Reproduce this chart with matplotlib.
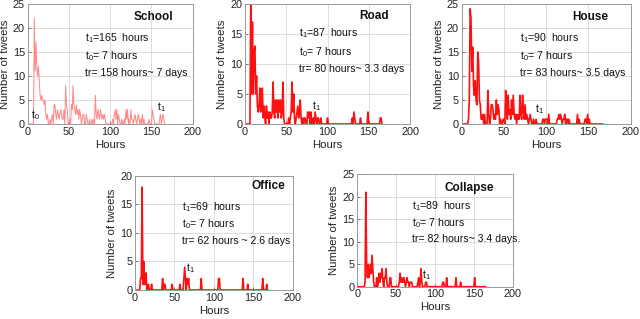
import matplotlib
matplotlib.use("Agg")
import matplotlib.pyplot as plt
import numpy as np

plt.rcParams['font.family'] = ['Liberation Sans', 'DejaVu Sans']
plt.rcParams['mathtext.fontset'] = 'custom'
plt.rcParams['mathtext.rm'] = 'Liberation Sans'
plt.rcParams['mathtext.it'] = 'Liberation Sans'

# hourly tweet counts (hour 0, 1, 2, ...)
school = [0, 0, 0, 0, 0, 0, 0, 0, 22, 11, 17, 12, 10, 12, 9, 6, 5, 6, 5, 5,
          4, 5, 2, 1, 2, 0, 0, 1, 0, 1, 2, 0, 4, 4, 2, 1, 3, 2, 1, 2,
          3, 2, 1, 1, 3, 0, 8, 4, 3, 0, 0, 1, 0, 4, 3, 8, 4, 3, 2, 4,
          2, 3, 1, 3, 2, 0, 1, 2, 2, 0, 0, 2, 1, 0, 0, 1, 0, 0, 1, 0,
          1, 0, 6, 2, 1, 3, 2, 1, 3, 2, 1, 2, 1, 2, 1, 0, 0, 0, 0, 0,
          0, 0, 0, 1, 0, 2, 3, 1, 3, 0, 2, 1, 0, 0, 1, 0, 0, 1, 0, 3,
          1, 3, 0, 1, 0, 3, 1, 1, 0, 1, 2, 1, 0, 1, 2, 1, 0, 1, 0, 2,
          0, 1, 0, 0, 0, 0, 0, 1, 0, 0, 0, 3, 2, 1, 0, 0, 0, 0, 0, 0,
          1, 2, 0, 1, 2, 1, 0]
road = [0, 0, 0, 0, 0, 0, 0, 22, 5, 17, 5, 12, 13, 5, 8, 3, 2, 3, 6, 2,
        5, 6, 1, 3, 1, 0, 3, 1, 2, 0, 2, 1, 1, 2, 7, 2, 1, 4, 2, 4,
        1, 4, 2, 4, 1, 2, 7, 1, 0, 0, 0, 0, 0, 1, 0, 1, 2, 7, 2, 5,
        1, 0, 1, 2, 3, 1, 2, 4, 1, 0, 1, 0, 1, 1, 0, 0, 2, 1, 2, 0,
        2, 0, 0, 1, 0, 2, 1, 0, 1, 1, 0, 0, 1, 0, 0, 0, 0, 0, 0, 0,
        1, 0, 0, 0, 0, 0, 0, 0, 0, 0, 0, 0, 0, 0, 0, 0, 0, 0, 0, 0,
        0, 0, 0, 0, 0, 0, 0, 0, 0, 0, 1, 0, 2, 1, 0, 0, 0, 0, 0, 0,
        1, 0, 0, 0, 0, 0, 0, 0, 0, 2, 0, 0, 0, 0, 0, 0, 0, 0, 0, 0,
        0, 0, 0, 0, 1, 1, 0]
house = [0, 0, 0, 0, 0, 0, 0, 0, 1, 5, 24, 22, 11, 16, 8, 6, 9, 5, 4, 15,
         13, 5, 4, 1, 1, 2, 0, 2, 0, 0, 0, 7, 2, 0, 1, 4, 4, 3, 1, 2,
         1, 5, 2, 4, 3, 0, 1, 0, 0, 1, 1, 0, 7, 3, 1, 6, 2, 3, 1, 5,
         2, 6, 2, 1, 2, 0, 2, 1, 1, 6, 2, 1, 6, 3, 1, 4, 1, 2, 1, 0,
         1, 2, 1, 0, 0, 1, 0, 0, 1, 0, 0, 0, 0, 0, 0, 0, 1, 1, 0, 1,
         1, 1, 0, 2, 0, 0, 0, 0, 0, 0, 0, 0, 0, 1, 1, 2, 1, 2, 1, 0,
         1, 1, 2, 0, 1, 1, 0, 1, 0, 0, 0, 0, 0, 0, 0, 0, 0, 2, 0, 1,
         0, 0, 0, 0, 0, 0, 1, 1, 0, 2, 0, 1, 0, 0, 0, 0, 0, 0, 0, 0,
         0, 0, 0, 0, 0, 0, 0, 0]
office = [0, 0, 0, 0, 0, 0, 0, 2, 2, 18, 1, 5, 1, 1, 3, 0, 0, 1, 0, 0,
          0, 1, 0, 0, 0, 0, 0, 0, 0, 0, 0, 0, 0, 0, 0, 2, 0, 1, 1, 0,
          0, 0, 0, 0, 0, 0, 0, 1, 0, 0, 0, 0, 0, 0, 0, 0, 0, 1, 0, 0,
          0, 0, 2, 4, 2, 0, 2, 1, 2, 0, 0, 0, 0, 0, 0, 0, 0, 0, 0, 0,
          0, 0, 0, 0, 2, 0, 0, 0, 0, 0, 0, 0, 0, 0, 0, 0, 0, 0, 0, 0,
          0, 0, 0, 0, 0, 0, 2, 2, 0, 0, 0, 0, 0, 0, 0, 0, 0, 0, 0, 0,
          0, 0, 0, 0, 0, 0, 0, 0, 0, 0, 0, 0, 0, 0, 0, 0, 0, 2, 0, 0,
          0, 0, 0, 1, 0, 0, 0, 0, 0, 0, 0, 0, 0, 0, 0, 0, 0, 0, 0, 0,
          0, 0, 2, 0, 0, 0, 0, 1, 0]
collapse = [0, 0, 0, 0, 0, 0, 0, 0, 0, 0, 1, 21, 5, 2, 5, 2, 3, 5, 3, 7,
            4, 1, 0, 0, 0, 2, 0, 1, 3, 1, 3, 2, 4, 1, 0, 2, 2, 4, 1, 0,
            0, 0, 2, 2, 0, 0, 0, 0, 0, 0, 0, 0, 0, 0, 1, 3, 1, 2, 1, 1,
            2, 1, 0, 1, 2, 1, 1, 0, 1, 1, 1, 0, 0, 0, 0, 0, 0, 0, 1, 2,
            0, 1, 4, 1, 0, 0, 0, 0, 1, 1, 0, 0, 0, 0, 0, 0, 0, 0, 0, 0,
            0, 0, 0, 0, 0, 0, 0, 0, 0, 0, 1, 1, 0, 0, 0, 2, 0, 0, 0, 0,
            0, 0, 0, 0, 0, 0, 0, 2, 0, 0, 0, 0, 0, 1, 0, 0, 0, 0, 0, 0,
            0, 0, 0, 0, 0, 0, 0, 0, 0, 0, 0, 2, 0, 0, 0, 0, 0, 0, 0, 0,
            0, 0, 0, 0, 0, 0]

titles = ["School", "Road", "House", "Office", "Collapse"]
t1_hours = [165, 87, 90, 69, 89]
tr_texts = ["tr= 158 hours~ 7 days", "tr= 80 hours~ 3.3 days",
            "tr= 83 hours~ 3.5 days", "tr= 62 hours ~ 2.6 days",
            "tr= 82 hours~ 3.4 days."]
ymaxes = [25, 20, 25, 20, 25]
series = [school, road, house, office, collapse]

W, H = 640, 319
fig = plt.figure(figsize=(W / 100, H / 100), dpi=100)

# axes rectangles in pixels: left, top, right, bottom
rects = [(27.7, 4, 192.7, 124), (245, 4, 410, 124), (461.7, 4, 630.7, 124),
         (135, 175.7, 292.7, 290), (357.3, 174.3, 512.7, 286.7)]
colors = ["#ff8a8a", "#ff1010", "#ff1010", "#ff1010", "#ff1010"]
lws = [0.75, 1.2, 1.2, 1.2, 1.2]
title_pos = [(177, 22.2), (174, 18), (174, 22.2), (191, 18.2), (176, 21.9)]
text_x = [70, 66, 69, 59, 71]
text_ys = [(17.9, 14.2, 10.6), (15.1, 12.05, 9.1), (17.85, 14.2, 10.6),
           (14.5, 11.5, 8.6), (17.9, 14.2, 10.5)]
t1_pos = [(162, 3.5), (86, 2.9), (92, 3.2), (70, 3.9), (89, 2.5)]

for i in range(5):
    l, t, r, b = rects[i]
    ax = fig.add_axes([l / W, 1 - b / H, (r - l) / W, (b - t) / H])
    y = series[i]
    x = np.arange(len(y))
    ax.plot(x, y, color=colors[i], lw=lws[i])
    ax.set_xlim(0, 200)
    ax.set_ylim(0, ymaxes[i])
    ax.set_xticks([0, 50, 100, 150, 200])
    ax.set_yticks(np.arange(0, ymaxes[i] + 1, 5))
    ax.grid(True, color="#dcdcdc", lw=0.7)
    ax.set_axisbelow(True)
    for s in ax.spines.values():
        s.set_color("#9a9a9a")
        s.set_linewidth(0.7)
    ax.tick_params(direction="in", length=2, width=0.6, color="#666666",
                   labelsize=7.8, labelcolor="#222222", pad=2)
    ax.set_xlabel("Hours", fontsize=8.2, labelpad=2, color="#222222")
    ax.set_ylabel("Number of tweets", fontsize=8.2, labelpad=2, color="#222222")
    ax.text(*title_pos[i], titles[i], ha="right", va="center",
            fontsize=8.5, fontweight="bold", color="#111111")
    ys = text_ys[i]
    ax.text(text_x[i], ys[0], r"t$_1$=%d  hours" % t1_hours[i], ha="left",
            va="center", fontsize=7.6, color="#111111")
    ax.text(text_x[i], ys[1], r"t$_0$= 7 hours", ha="left",
            va="center", fontsize=7.6, color="#111111")
    ax.text(text_x[i], ys[2], tr_texts[i], ha="left",
            va="center", fontsize=7.6, color="#111111")
    ax.text(*t1_pos[i], r"t$_1$", ha="center", va="center",
            fontsize=7.6, color="#111111")
    if i == 0:
        ax.text(9, 1.8, r"t$_0$", ha="center", va="center",
                fontsize=7.6, color="#111111")

fig.savefig("out.png", dpi=100)
